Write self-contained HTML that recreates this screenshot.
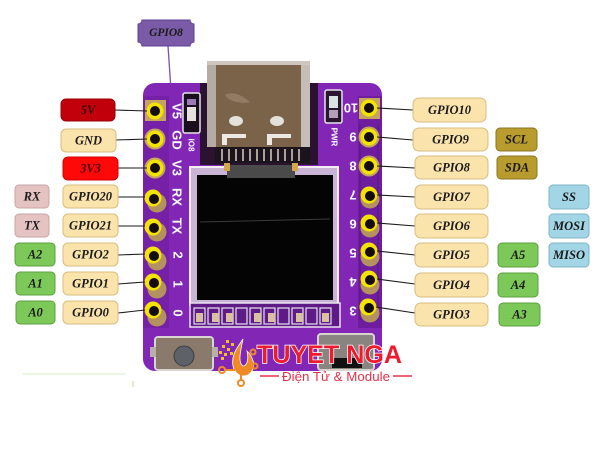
<!DOCTYPE html>
<html><head><meta charset="utf-8"><style>
html,body{margin:0;padding:0;background:#fff;}
svg{display:block;}
.lb{font-family:"Liberation Serif",serif;font-weight:bold;font-style:italic;font-size:12.5px;fill:#1b1b1b;text-anchor:middle;dominant-baseline:central;}
.pl{font-family:"Liberation Sans",sans-serif;font-weight:bold;font-size:13px;fill:#fff;text-anchor:middle;dominant-baseline:central;}
</style></head><body>
<svg width="600" height="475" viewBox="0 0 600 475" xmlns="http://www.w3.org/2000/svg">
<rect width="600" height="475" fill="#fff"/>

<!-- faint green line bottom-left -->
<line x1="22" y1="374" x2="125" y2="374" stroke="#d6ebc6" stroke-width="1"/>
<line x1="133" y1="381" x2="133" y2="387" stroke="#b5dc98" stroke-width="1"/>

<!-- GPIO8 top label + purple connector -->
<path d="M168,46 L171,90 L190,103" fill="none" stroke="#7b4fb0" stroke-width="1.3"/>
<path d="M142,20 L190,20 A4,4 0 0 0 194,24 L194,42 A4,4 0 0 0 190,46 L142,46 A4,4 0 0 0 138,42 L138,24 A4,4 0 0 0 142,20 Z" fill="#7b5ba7" stroke="#5e4190" stroke-width="1"/>
<text class="lb" x="166" y="33" style="font-size:11.5px">GPIO8</text>

<!-- BOARD -->
<rect x="143" y="83" width="239" height="288" rx="12" fill="#8226b6"/>
<!-- darker header rails -->
<rect x="143" y="96" width="26" height="232" fill="#7620a8"/>
<rect x="358" y="96" width="24" height="232" fill="#6e1d9e"/>
<path d="M360,125 L360,320 M378,125 L378,320" stroke="#5a1585" stroke-width="1"/>
<!-- dark area around USB -->
<rect x="200" y="83" width="118" height="82" fill="#2a1230"/>
<!-- USB-C -->
<rect x="207" y="61" width="103" height="86" rx="2" fill="#7a6349"/>
<rect x="207" y="61" width="9" height="86" fill="#b4aca4"/>
<rect x="301" y="61" width="9" height="86" fill="#c6beb6"/>
<rect x="207" y="61" width="103" height="4" fill="#cfc7bf"/>
<path d="M225,95 C235,90 245,98 250,102 C240,104 230,102 225,95 Z" fill="#a08c74" opacity="0.6"/>
<ellipse cx="236" cy="121" rx="7" ry="5" fill="#e4e0da"/>
<ellipse cx="277" cy="121" rx="7" ry="5" fill="#e4e0da"/>
<path d="M222,145 L222,134 L246,134 L246,138 L227,138 L227,145 Z" fill="#ece8e4"/>
<path d="M267,145 L267,134 L291,134 L291,138 L272,138 L272,145 Z" fill="#ece8e4"/>
<!-- USB teeth -->
<rect x="215" y="147" width="95" height="16" fill="#1c141c"/>
<g stroke="#aaa29a" stroke-width="2">
<line x1="222" y1="149" x2="222" y2="161"/><line x1="229" y1="149" x2="229" y2="161"/><line x1="236" y1="149" x2="236" y2="161"/><line x1="243" y1="149" x2="243" y2="161"/><line x1="250" y1="149" x2="250" y2="161"/><line x1="257" y1="149" x2="257" y2="161"/><line x1="264" y1="149" x2="264" y2="161"/><line x1="271" y1="149" x2="271" y2="161"/><line x1="278" y1="149" x2="278" y2="161"/><line x1="285" y1="149" x2="285" y2="161"/><line x1="292" y1="149" x2="292" y2="161"/><line x1="299" y1="149" x2="299" y2="161"/>
</g>
<!-- IO8 LED -->
<rect x="183" y="93" width="17" height="40" rx="2" fill="#1a0f1c" stroke="#e8e4ea" stroke-width="1.5"/>
<rect x="187" y="99" width="9" height="6" fill="#9a7ab8"/>
<rect x="187" y="107" width="9" height="14" fill="#e8e2dc"/>
<text class="pl" x="191" y="145" transform="rotate(90 191 145)" style="font-size:8px">IO8</text>
<!-- PWR LED -->
<rect x="325" y="90" width="17" height="33" rx="2" fill="#2a1630" stroke="#e8e4ea" stroke-width="1.5"/>
<rect x="329" y="96" width="9" height="12" fill="#d8e4e0"/>
<rect x="329" y="110" width="9" height="8" fill="#b0a0b8"/>
<text class="pl" x="334" y="137" transform="rotate(90 334 137)" style="font-size:8px">PWR</text>

<!-- Display -->
<rect x="190" y="167" width="148" height="138" fill="#c9b4d6" stroke="#f2eef4" stroke-width="2"/>
<rect x="197" y="175" width="136" height="125" fill="#050405"/>
<line x1="200" y1="222" x2="330" y2="219" stroke="#3a3a3a" stroke-width="1"/>
<rect x="227" y="165" width="68" height="13" fill="#4a4a4a"/>
<rect x="224" y="163" width="6" height="8" fill="#d4a84a"/>
<rect x="292" y="163" width="6" height="8" fill="#d4a84a"/>
<!-- FPC pads row -->
<rect x="190" y="303" width="150" height="24" fill="#5e1a86" stroke="#e8e2ee" stroke-width="1.5"/>
<g fill="none" stroke="#e8e2ee" stroke-width="1.2">
<rect x="194" y="308" width="11" height="16"/><rect x="208" y="308" width="11" height="16"/><rect x="222" y="308" width="11" height="16"/><rect x="236" y="308" width="11" height="16"/><rect x="250" y="308" width="11" height="16"/><rect x="264" y="308" width="11" height="16"/><rect x="278" y="308" width="11" height="16"/><rect x="292" y="308" width="11" height="16"/><rect x="306" y="308" width="11" height="16"/><rect x="320" y="308" width="11" height="16"/>
</g>
<g fill="#d8c0a0">
<rect x="196" y="313" width="7" height="9"/><rect x="212" y="313" width="7" height="9"/><rect x="226" y="313" width="7" height="9"/><rect x="254" y="313" width="7" height="9"/><rect x="268" y="313" width="7" height="9"/><rect x="296" y="313" width="7" height="9"/><rect x="322" y="313" width="7" height="9"/>
</g>
<!-- bottom buttons -->
<rect x="155" y="337" width="58" height="33" rx="3" fill="#8a7a6c" stroke="#d8d4d0" stroke-width="2"/>
<rect x="150" y="347" width="6" height="10" fill="#b8b0a8"/>
<rect x="212" y="347" width="6" height="10" fill="#b8b0a8"/>
<circle cx="184" cy="356" r="10" fill="#5e6268" stroke="#3a3c40" stroke-width="1"/>
<rect x="318" y="334" width="56" height="36" rx="3" fill="#8a8480" stroke="#d8d4d0" stroke-width="2"/>
<rect x="332" y="358" width="30" height="10" fill="#111"/>

<!-- Left pins -->
<g>
<rect x="145" y="100" width="21" height="21" fill="#c4a460"/>
<circle cx="155" cy="139" r="10.5" fill="#c4a460"/>
<circle cx="155" cy="168" r="10.5" fill="#c4a460"/>
<circle cx="157" cy="203" r="9.5" fill="#b49260"/>
<circle cx="157" cy="232" r="9.5" fill="#b49260"/>
<circle cx="157" cy="261" r="9.5" fill="#b49260"/>
<circle cx="157" cy="289" r="9.5" fill="#b49260"/>
<circle cx="157" cy="317" r="9.5" fill="#b49260"/>
</g>
<g fill="#f2e400">
<circle cx="155" cy="111" r="8.5"/><circle cx="155" cy="139" r="8.5"/><circle cx="155" cy="168" r="8.5"/>
<circle cx="153" cy="198" r="8.5"/><circle cx="153" cy="227" r="8.5"/><circle cx="153" cy="255" r="8.5"/><circle cx="153" cy="282" r="8.5"/><circle cx="153" cy="310" r="8.5"/>
</g>
<g fill="#140c10">
<circle cx="155" cy="111" r="5"/><circle cx="155" cy="139" r="5"/><circle cx="155" cy="168" r="5"/>
<circle cx="154" cy="199" r="5"/><circle cx="154" cy="228" r="5"/><circle cx="154" cy="256" r="5"/><circle cx="154" cy="283" r="5"/><circle cx="154" cy="311" r="5"/>
</g>
<!-- Right pins -->
<g>
<rect x="359" y="98" width="21" height="21" fill="#c4a460"/>
<circle cx="369" cy="137" r="10.5" fill="#c4a460"/>
<circle cx="369" cy="166" r="10.5" fill="#c4a460"/>
<circle cx="370" cy="199" r="9.5" fill="#b49260"/>
<circle cx="370" cy="228" r="9.5" fill="#b49260"/>
<circle cx="370" cy="257" r="9.5" fill="#b49260"/>
<circle cx="370" cy="285" r="9.5" fill="#b49260"/>
<circle cx="370" cy="313" r="9.5" fill="#b49260"/>
</g>
<g fill="#f2e400">
<circle cx="369" cy="108" r="8.5"/><circle cx="369" cy="137" r="8.5"/><circle cx="369" cy="166" r="8.5"/>
<circle cx="369" cy="195" r="8.5"/><circle cx="369" cy="223" r="8.5"/><circle cx="369" cy="251" r="8.5"/><circle cx="369" cy="279" r="8.5"/><circle cx="368" cy="307" r="8.5"/>
</g>
<g fill="#140c10">
<circle cx="369" cy="108" r="5"/><circle cx="369" cy="137" r="5"/><circle cx="369" cy="166" r="5"/>
<circle cx="370" cy="196" r="5"/><circle cx="370" cy="224" r="5"/><circle cx="370" cy="252" r="5"/><circle cx="370" cy="280" r="5"/><circle cx="369" cy="308" r="5"/>
</g>

<!-- Board silkscreen labels -->
<g class="pl">
<text class="pl" x="177" y="111" transform="rotate(90 177 111)">V5</text>
<text class="pl" x="177" y="140" transform="rotate(90 177 140)">GD</text>
<text class="pl" x="177" y="168" transform="rotate(90 177 168)">V3</text>
<text class="pl" x="177" y="197" transform="rotate(90 177 197)">RX</text>
<text class="pl" x="177" y="226" transform="rotate(90 177 226)">TX</text>
<text class="pl" x="178" y="255" transform="rotate(90 178 255)">2</text>
<text class="pl" x="178" y="284" transform="rotate(90 178 284)">1</text>
<text class="pl" x="178" y="313" transform="rotate(90 178 313)">0</text>
<text class="pl" x="351" y="108" transform="rotate(180 351 108)">10</text>
<text class="pl" x="353" y="137" transform="rotate(180 353 137)">9</text>
<text class="pl" x="353" y="166" transform="rotate(180 353 166)">8</text>
<text class="pl" x="353" y="195" transform="rotate(180 353 195)">7</text>
<text class="pl" x="353" y="224" transform="rotate(180 353 224)">6</text>
<text class="pl" x="353" y="253" transform="rotate(180 353 253)">5</text>
<text class="pl" x="353" y="282" transform="rotate(180 353 282)">4</text>
<text class="pl" x="353" y="311" transform="rotate(180 353 311)">3</text>
</g>

<!-- Connector lines -->
<g stroke="#1a1a1a" stroke-width="1.1">
<line x1="115" y1="110" x2="147" y2="111"/>
<line x1="116" y1="140" x2="147" y2="139"/>
<line x1="118" y1="168" x2="147" y2="168"/>
<line x1="118" y1="197" x2="145" y2="197"/>
<line x1="118" y1="226" x2="145" y2="226"/>
<line x1="118" y1="255" x2="145" y2="254"/>
<line x1="118" y1="284" x2="145" y2="282"/>
<line x1="118" y1="313" x2="145" y2="310"/>
<line x1="377" y1="108" x2="413" y2="110"/>
<line x1="377" y1="137" x2="413" y2="140"/>
<line x1="377" y1="166" x2="415" y2="168"/>
<line x1="377" y1="195" x2="415" y2="197"/>
<line x1="377" y1="223" x2="415" y2="226"/>
<line x1="377" y1="251" x2="415" y2="255"/>
<line x1="377" y1="279" x2="415" y2="284"/>
<line x1="376" y1="307" x2="415" y2="313"/>
</g>

<!-- Left labels -->
<g stroke-width="1">
<rect x="61" y="99" width="54" height="22" rx="5" fill="#c2000c" stroke="#9a0008"/>
<rect x="61" y="129" width="55" height="23" rx="5" fill="#fbe4ab" stroke="#d8bd80"/>
<rect x="63" y="157" width="55" height="23" rx="5" fill="#ff0808" stroke="#d00000"/>
<rect x="63" y="185" width="55" height="23" rx="5" fill="#fbe4ab" stroke="#d8bd80"/>
<rect x="63" y="214" width="55" height="23" rx="5" fill="#fbe4ab" stroke="#d8bd80"/>
<rect x="63" y="243" width="55" height="23" rx="5" fill="#fbe4ab" stroke="#d8bd80"/>
<rect x="63" y="272" width="55" height="23" rx="5" fill="#fbe4ab" stroke="#d8bd80"/>
<rect x="63" y="301" width="55" height="23" rx="5" fill="#fbe4ab" stroke="#d8bd80"/>
<rect x="15" y="185" width="34" height="23" rx="4" fill="#e6c3c3" stroke="#caa3a3"/>
<rect x="15" y="214" width="34" height="23" rx="4" fill="#e6c3c3" stroke="#caa3a3"/>
<rect x="15" y="243" width="40" height="23" rx="4" fill="#7cc858" stroke="#5ea040"/>
<rect x="16" y="272" width="39" height="23" rx="4" fill="#7cc858" stroke="#5ea040"/>
<rect x="16" y="301" width="39" height="23" rx="4" fill="#7cc858" stroke="#5ea040"/>
</g>
<text class="lb" x="88" y="110" style="fill:#3a0004">5V</text>
<text class="lb" x="88.5" y="140.5">GND</text>
<text class="lb" x="90.5" y="168.5" style="fill:#4a0000">3V3</text>
<text class="lb" x="90.5" y="196.5">GPIO20</text>
<text class="lb" x="90.5" y="225.5">GPIO21</text>
<text class="lb" x="90.5" y="254.5">GPIO2</text>
<text class="lb" x="90.5" y="283.5">GPIO1</text>
<text class="lb" x="90.5" y="312.5">GPIO0</text>
<text class="lb" x="32" y="196.5">RX</text>
<text class="lb" x="32" y="225.5">TX</text>
<text class="lb" x="35" y="254.5">A2</text>
<text class="lb" x="35.5" y="283.5">A1</text>
<text class="lb" x="35.5" y="312.5">A0</text>

<!-- Right labels -->
<g stroke-width="1">
<rect x="413" y="98" width="73" height="24" rx="6" fill="#fbe4ab" stroke="#d8bd80"/>
<rect x="413" y="128" width="75" height="23" rx="6" fill="#fbe4ab" stroke="#d8bd80"/>
<rect x="415" y="156" width="73" height="23" rx="6" fill="#fbe4ab" stroke="#d8bd80"/>
<rect x="415" y="185" width="73" height="24" rx="6" fill="#fbe4ab" stroke="#d8bd80"/>
<rect x="415" y="214" width="73" height="24" rx="6" fill="#fbe4ab" stroke="#d8bd80"/>
<rect x="415" y="243" width="73" height="24" rx="6" fill="#fbe4ab" stroke="#d8bd80"/>
<rect x="415" y="273" width="73" height="24" rx="6" fill="#fbe4ab" stroke="#d8bd80"/>
<rect x="415" y="303" width="73" height="23" rx="6" fill="#fbe4ab" stroke="#d8bd80"/>
<rect x="496" y="128" width="41" height="23" rx="4" fill="#b89c2e" stroke="#8c7620"/>
<rect x="497" y="156" width="40" height="23" rx="4" fill="#b89c2e" stroke="#8c7620"/>
<rect x="549" y="185" width="40" height="24" rx="4" fill="#a2d6e6" stroke="#80b4c6"/>
<rect x="549" y="214" width="40" height="24" rx="4" fill="#a2d6e6" stroke="#80b4c6"/>
<rect x="549" y="243" width="40" height="24" rx="4" fill="#a2d6e6" stroke="#80b4c6"/>
<rect x="498" y="243" width="40" height="24" rx="4" fill="#7cc858" stroke="#5ea040"/>
<rect x="498" y="273" width="40" height="24" rx="4" fill="#7cc858" stroke="#5ea040"/>
<rect x="499" y="303" width="41" height="23" rx="4" fill="#7cc858" stroke="#5ea040"/>
</g>
<text class="lb" x="449.5" y="110">GPIO10</text>
<text class="lb" x="450.5" y="139.5">GPIO9</text>
<text class="lb" x="451.5" y="167.5">GPIO8</text>
<text class="lb" x="451.5" y="197">GPIO7</text>
<text class="lb" x="451.5" y="226">GPIO6</text>
<text class="lb" x="451.5" y="255">GPIO5</text>
<text class="lb" x="451.5" y="285">GPIO4</text>
<text class="lb" x="451.5" y="314.5">GPIO3</text>
<text class="lb" x="516.5" y="139.5">SCL</text>
<text class="lb" x="517" y="167.5">SDA</text>
<text class="lb" x="569" y="197">SS</text>
<text class="lb" x="569" y="226">MOSI</text>
<text class="lb" x="569" y="255">MISO</text>
<text class="lb" x="518" y="255">A5</text>
<text class="lb" x="518" y="285">A4</text>
<text class="lb" x="519.5" y="314.5">A3</text>

<!-- Logo -->
<g>
<g fill="#f5c21a">
<rect x="226" y="340" width="3" height="3"/><rect x="231" y="343" width="3" height="3"/><rect x="222" y="345" width="3" height="3"/>
<rect x="227" y="348" width="3" height="3"/><rect x="219" y="351" width="3" height="3"/><rect x="224" y="353" width="3" height="3"/>
<rect x="230" y="352" width="3" height="3"/><rect x="221" y="357" width="3" height="3"/>
</g>
<path d="M243,339 C237,348 231,355 233,366 C235,376 246,380 252,371 C256,364 252,356 247,351 C249,359 247,366 243,366 C238,363 240,353 243,339 Z" fill="#f08a24" stroke="#fff" stroke-width="0.8"/>
<g stroke="#f08a24" stroke-width="2" fill="none">
<circle cx="222" cy="370" r="3"/>
<line x1="225" y1="370" x2="235" y2="370"/>
<circle cx="241" cy="383" r="3"/>
<line x1="241" y1="380" x2="241" y2="374"/>
<circle cx="255" cy="366" r="2.5"/>
<circle cx="253" cy="352" r="2.5"/>
</g>
<text x="257" y="363" textLength="145" lengthAdjust="spacingAndGlyphs" style="font-family:'Liberation Sans',sans-serif;font-weight:bold;font-size:25px;fill:#ec1b30;stroke:#fff;stroke-width:1.5;paint-order:stroke;">TUYET NGA</text>
<line x1="260" y1="376" x2="279" y2="376" stroke="#e8304a" stroke-width="1.5"/>
<line x1="393" y1="376" x2="412" y2="376" stroke="#e8304a" stroke-width="1.5"/>
<text x="282" y="381" textLength="108" lengthAdjust="spacingAndGlyphs" style="font-family:'Liberation Sans',sans-serif;font-size:13px;fill:#e8304a;">Điện Tử &amp; Module</text>
</g>
</svg>
</body></html>
